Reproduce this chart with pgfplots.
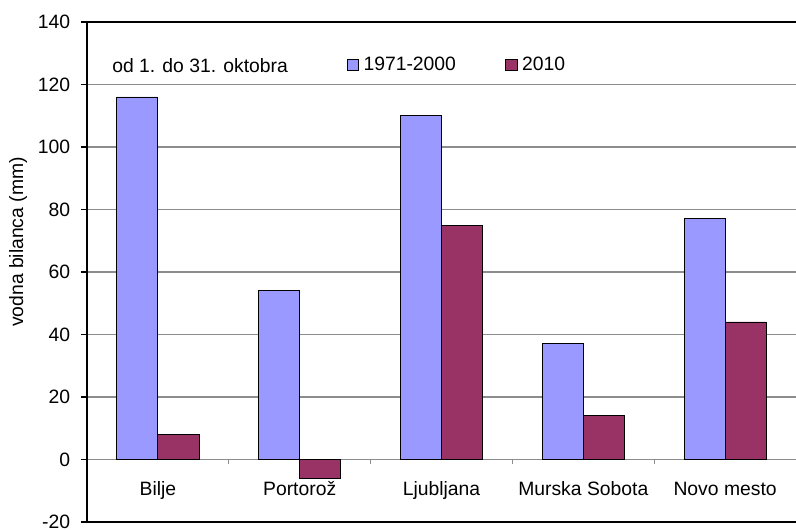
\documentclass[border=0pt]{standalone}
\usepackage{fontspec}
\setmainfont{Liberation Sans}
\usepackage{pgfplots}
\pgfplotsset{compat=1.18}
\definecolor{cblue}{RGB}{153,153,255}
\definecolor{cred}{RGB}{153,51,102}
\begin{document}
\fontsize{14.5}{17}\selectfont
\begin{tikzpicture}
\useasboundingbox (-65.25pt,-6pt) rectangle (531.75pt,391.5pt);
\begin{axis}[
  at={(0,0)}, anchor=south west,
  scale only axis,
  clip=false,
  width=531.75pt, height=375pt,
  xmin=-0.5, xmax=4.5,
  ymin=-20, ymax=140,
  ytick={-20,0,20,40,60,80,100,120,140},
  yticklabels={-20,0,20,40,60,80,100,120,140},
  xtick=\empty,
  axis y line*=left,
  axis x line*=bottom,
  axis line style={black, line width=1pt, -},
  tick align=outside,
  major tick length=4.5pt,
  y tick style={black, line width=0.8pt},
  yticklabel style={font=\fontsize{14.5}{17}\selectfont, inner sep=0pt, xshift=-8pt},
  ymajorgrids,
  grid style={gray!90, line width=0.8pt},
  ybar=0pt,
  bar width=30.75pt,
  legend style={at={(rel axis cs:0.366,0.914)}, anchor=west, draw=none, fill=none,
    inner sep=0pt, font=\fontsize{14.5}{17}\selectfont,
    /tikz/every even column/.append style={column sep=35pt}},
  legend columns=2,
  legend image code/.code={\draw[#1, line width=0.6pt] (0pt,-4.2pt) rectangle (8.5pt,4.2pt); \path (10pt,0pt);},
]
\addplot[fill=cblue, draw=black, line width=0.6pt] coordinates {(0,116) (1,54) (2,110) (3,37) (4,77)};
\addlegendentry{1971-2000}
\addplot[fill=cred, draw=black, line width=0.6pt] coordinates {(0,8) (1,-6) (2,75) (3,14) (4,44)};
\addlegendentry{2010}
\draw[black, line width=1pt] (rel axis cs:0,1) -- (rel axis cs:1,1);
\pgfplotsinvokeforeach{0.5,1.5,2.5,3.5}{
  \draw[gray!90, line width=0.8pt] (axis cs:#1,0) -- ([yshift=-3.75pt]axis cs:#1,0);
}
\node[anchor=base] at ([yshift=-27pt]axis cs:0,0) {Bilje};
\node[anchor=base] at ([yshift=-27pt]axis cs:1,0) {Portorož};
\node[anchor=base] at ([yshift=-27pt]axis cs:2,0) {Ljubljana};
\node[anchor=base] at ([yshift=-27pt]axis cs:3,0) {Murska Sobota};
\node[anchor=base] at ([yshift=-27pt]axis cs:4,0) {Novo mesto};
\node[anchor=base west, inner sep=0pt] at (rel axis cs:0.0353,0.898) {od 1. do 31. oktobra};
\node[rotate=90, anchor=center] at ([xshift=-51.75pt]rel axis cs:0,0.56) {vodna bilanca (mm)};
\end{axis}
\end{tikzpicture}
\end{document}
